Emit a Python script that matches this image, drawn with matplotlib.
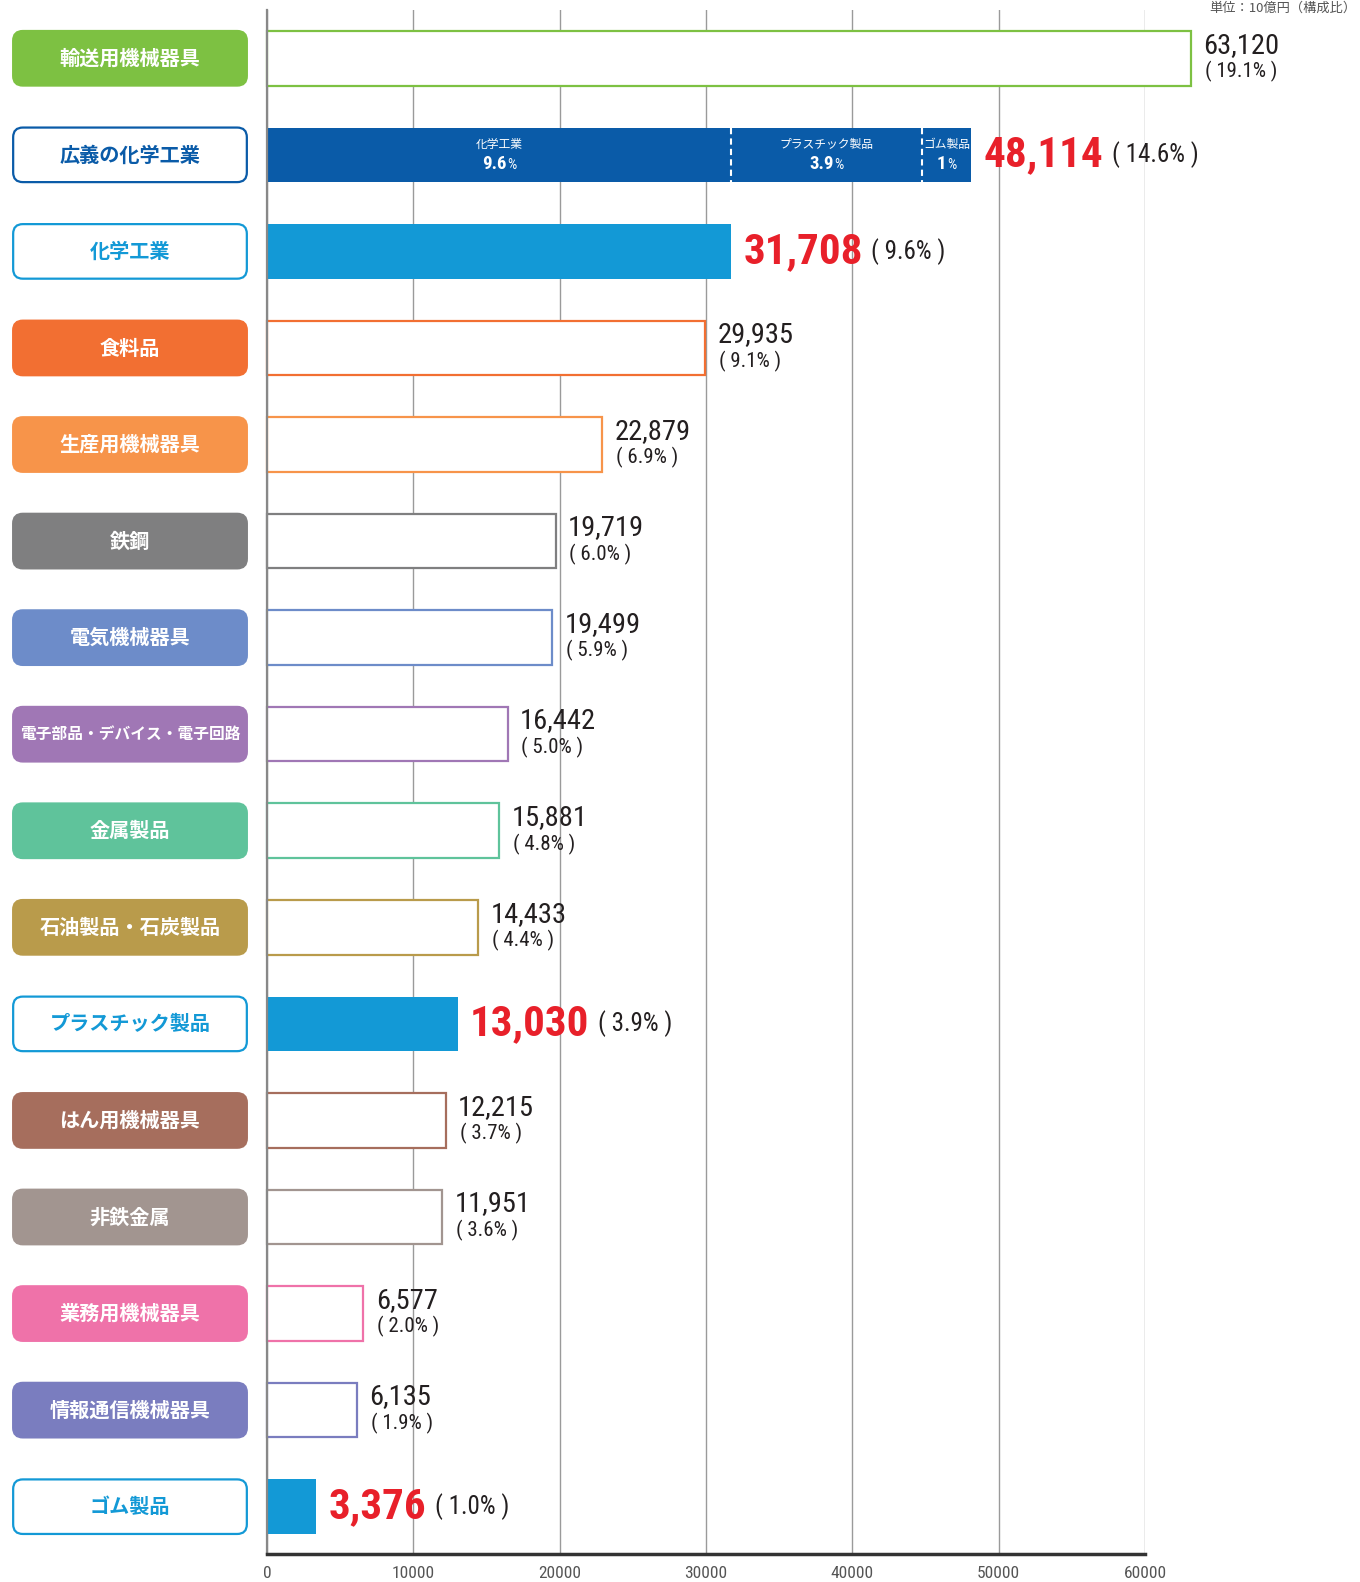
import numpy as np
import matplotlib.pyplot as plt
from matplotlib.patches import FancyBboxPatch
from matplotlib import font_manager

# fonts
names = {f.name for f in font_manager.fontManager.ttflist}
num_font = next((n for n in ['Liberation Sans Narrow', 'Roboto Condensed', 'DejaVu Sans Condensed',
                             'Liberation Sans'] if n in names), 'DejaVu Sans')
jp = 'Noto Sans CJK JP'
plt.rcParams['font.family'] = [jp, 'DejaVu Sans']

# data
categories = ['輸送用機械器具', '広義の化学工業', '化学工業', '食料品', '生産用機械器具', '鉄鋼',
              '電気機械器具', '電子部品・デバイス・電子回路', '金属製品', '石油製品・石炭製品',
              'プラスチック製品', 'はん用機械器具', '非鉄金属', '業務用機械器具', '情報通信機械器具', 'ゴム製品']
values = [63120, 48114, 31708, 29935, 22879, 19719, 19499, 16442, 15881, 14433,
          13030, 12215, 11951, 6577, 6135, 3376]
shares = ['19.1', '14.6', '9.6', '9.1', '6.9', '6.0', '5.9', '5.0', '4.8', '4.4',
          '3.9', '3.7', '3.6', '2.0', '1.9', '1.0']
kinds = ['outline', 'stack', 'solid', 'outline', 'outline', 'outline', 'outline', 'outline',
         'outline', 'outline', 'solid', 'outline', 'outline', 'outline', 'outline', 'solid']
colors = ['#7dc142', '#0a5ba8', '#1399d6', '#f26f32', '#f7944a', '#7f7f80', '#6d8cc9', '#a077b5',
          '#5fc39b', '#b99b4b', '#1399d6', '#a66e5d', '#a29590', '#ef72a9', '#7a7dbf', '#1399d6']

stack_parts = [31708, 13030, 3376]
stack_names = ['化学工業', 'プラスチック製品', 'ゴム製品']
stack_shares = ['9.6', '3.9', '1']

ticks = [0, 10000, 20000, 30000, 40000, 50000, 60000]

RED = '#e8202a'
TXT = '#231f20'
H = 0.565

W, Hpx = 1360, 1582
fig = plt.figure(figsize=(W / 100, Hpx / 100), dpi=100)
ax_l, ax_r = 267 / W, 1145 / W
ax_b, ax_t = 1 - 1554 / Hpx, 1 - 10 / Hpx
ax = fig.add_axes([ax_l, ax_b, ax_r - ax_l, ax_t - ax_b])

n = len(categories)
ax.set_ylim(n - 0.51, -0.5)
ax.set_xlim(0, 60000)

for i in range(n):
    v, c, k = values[i], colors[i], kinds[i]
    if k == 'outline':
        ax.barh(i, v, height=H, color='white', edgecolor=c, linewidth=1.6, zorder=2, clip_on=False)
    elif k == 'solid':
        ax.barh(i, v, height=H, color=c, linewidth=0, zorder=2, clip_on=False)
    else:
        left = np.concatenate([[0], np.cumsum(stack_parts)[:-1]])
        ax.barh([i] * 3, stack_parts, left=left, height=H, color=c, linewidth=0, zorder=2)
        for j in range(3):
            cx = left[j] + stack_parts[j] / 2
            ax.text(cx, i - 0.11, stack_names[j], color='white', fontsize=8.5, ha='center',
                    va='center', zorder=4)
            t = ax.annotate(stack_shares[j], xy=(cx, i + 0.1), xytext=(-3.5, 0), textcoords='offset points',
                            color='white', fontsize=13.5, fontweight='bold', family=[num_font, jp],
                            ha='center', va='center', zorder=4)
            ax.annotate('%', xy=(1, 0.1), xycoords=t, xytext=(0.5, 0), textcoords='offset points',
                        color='white', fontsize=10.5, family=[num_font, jp], ha='left', va='bottom', zorder=4)
        for x in left[1:]:
            ax.plot([x, x], [i - H / 2, i + H / 2], color='white', lw=1.5, ls=(0, (3, 2)), zorder=3)

    if k == 'outline':
        ax.annotate(f'{v:,}', xy=(v, i), xytext=(9, 9.5), textcoords='offset points',
                    fontsize=20.5, family=[num_font, jp], color=TXT, ha='left', va='center', zorder=5,
                    annotation_clip=False)
        ax.annotate(f'( {shares[i]}% )', xy=(v, i), xytext=(10, -9.5), textcoords='offset points',
                    fontsize=15, family=[num_font, jp], color=TXT, ha='left', va='center', zorder=5,
                    annotation_clip=False)
    else:
        t = ax.annotate(f'{v:,}', xy=(v, i), xytext=(9, 0), textcoords='offset points',
                        fontsize=31, fontweight='bold', family=[num_font, jp], color=RED,
                        ha='left', va='center', zorder=5)
        ax.annotate(f'( {shares[i]}% )', xy=(1, 0.5), xycoords=t, xytext=(6, 0), textcoords='offset points',
                    fontsize=18, family=[num_font, jp], color=TXT, ha='left', va='center', zorder=5)

ax.set_xticks(ticks)
ax.set_xticklabels([str(t) for t in ticks], family=num_font, fontsize=12.5, color='#555555')
ax.tick_params(axis='x', length=0, pad=9)
ax.set_yticks([])
ax.grid(axis='x', color='#9a9a9a', lw=1)
ax.set_axisbelow(True)
for s in ['top', 'right']:
    ax.spines[s].set_visible(False)
ax.spines['left'].set_color('#888888')
ax.spines['left'].set_linewidth(1.6)
ax.spines['bottom'].set_color('#333333')
ax.spines['bottom'].set_linewidth(2.5)

# category label boxes
lax = fig.add_axes([12 / W, ax_b, 236 / W, ax_t - ax_b], sharey=ax)
px_per_unit = (ax_t - ax_b) * Hpx / (n - 0.01)
bw = 236 / px_per_unit
lax.set_xlim(0, bw)
lax.axis('off')
for i in range(n):
    c, k = colors[i], kinds[i]
    filled = (k == 'outline')
    box = FancyBboxPatch((0.012, i - H / 2), bw - 0.024, H,
                         boxstyle='round,pad=0,rounding_size=0.1',
                         facecolor=c if filled else 'white', edgecolor=c, linewidth=1.6,
                         clip_on=False)
    lax.add_patch(box)
    fs = 11.3 if len(categories[i]) > 10 else 14.5
    lax.text(bw / 2, i, categories[i], color='white' if filled else c, fontsize=fs,
             fontweight='bold', ha='center', va='center')

fig.text(1356 / W, 1 - 2 / Hpx, '単位：10億円（構成比）', fontsize=9.5, color='#555555',
         ha='right', va='top')

fig.savefig('out.png', dpi=100)
